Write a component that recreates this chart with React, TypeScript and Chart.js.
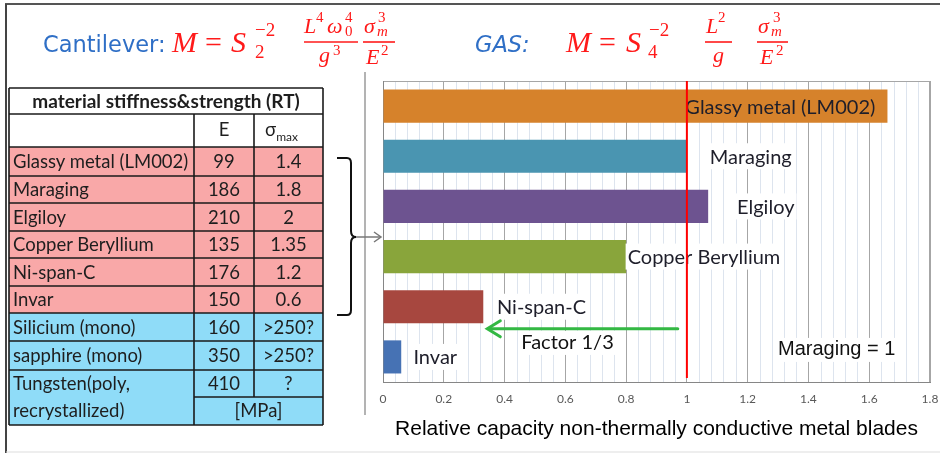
import React, { useEffect, useRef } from "react";
import { Chart, registerables } from "chart.js";
Chart.register(...registerables);

// ---- chart data ----
const materials = ["Glassy metal (LM002)", "Maraging", "Elgiloy", "Copper Beryllium", "Ni-span-C", "Invar"];
const relativeCapacity = [1.66, 1.0, 1.07, 0.8, 0.33, 0.06];
const barColors = ["#D6822B", "#4A95B1", "#6D5390", "#89A53B", "#A7473F", "#4672B4"];
const labelStart = [0.995, 1.075, 1.165, 0.805, 0.375, 0.1];
const xTickLabels = ["0", "0.2", "0.4", "0.6", "0.8", "1", "1.2", "1.4", "1.6", "1.8"];
const xTitle = "Relative capacity non-thermally conductive metal blades";
const referenceValue = 1.0;
const arrowFrom = 0.97;
const arrowTo = 0.34;

// ---- table data ----
const tableNames = ["Glassy metal (LM002)", "Maraging", "Elgiloy", "Copper Beryllium", "Ni-span-C", "Invar", "Silicium (mono)", "sapphire (mono)"];
const tableE = ["99", "186", "210", "135", "176", "150", "160", "350"];
const tableSigma = ["1.4", "1.8", "2", "1.35", "1.2", "0.6", ">250?", ">250?"];
const tableGroup = ["metal", "metal", "metal", "metal", "metal", "metal", "crystal", "crystal"];

const LABEL_FONT = "Lato, 'Open Sans', sans-serif";

function ChartPanel() {
  const ref = useRef<HTMLCanvasElement | null>(null);
  useEffect(() => {
    const canvas = ref.current!;
    const decor = {
      id: "decor",
      beforeDatasetsDraw(chart: any) {
        const { ctx, chartArea: a, scales } = chart;
        const xs = scales.x;
        ctx.save();
        ctx.strokeStyle = "#dde4ee";
        ctx.lineWidth = 1;
        for (let k = 1; k < 45; k++) {
          if (k % 5 === 0) continue;
          const px = Math.round(xs.getPixelForValue(k * 0.04)) + 0.5;
          ctx.beginPath();
          ctx.moveTo(px, a.top);
          ctx.lineTo(px, a.bottom);
          ctx.stroke();
        }
        ctx.strokeStyle = "#a6a6a6";
        ctx.beginPath();
        ctx.moveTo(a.left, a.top + 0.5);
        ctx.lineTo(a.right, a.top + 0.5);
        ctx.moveTo(a.right - 0.5, a.top);
        ctx.lineTo(a.right - 0.5, a.bottom);
        ctx.stroke();
        ctx.strokeStyle = "#868686";
        ctx.beginPath();
        ctx.moveTo(a.left + 0.5, a.top);
        ctx.lineTo(a.left + 0.5, a.bottom);
        ctx.stroke();
        ctx.restore();
      },
      afterDatasetsDraw(chart: any) {
        const { ctx, chartArea: a, scales } = chart;
        const xs = scales.x;
        const meta = chart.getDatasetMeta(0);
        ctx.save();
        ctx.font = `20px ${LABEL_FONT}`;
        ctx.textBaseline = "middle";
        ctx.textAlign = "left";
        materials.forEach((m, i) => {
          const bar = meta.data[i];
          const x = xs.getPixelForValue(labelStart[i]);
          const w = ctx.measureText(m).width;
          if (i !== 0) {
            ctx.fillStyle = "#ffffff";
            ctx.fillRect(x - 2, bar.y - 13, w + 4, 26);
          }
          ctx.fillStyle = "#1e1e2a";
          ctx.fillText(m, x, bar.y + 1);
        });
        // Factor 1/3 and Maraging = 1
        const niY = meta.data[4].y;
        const invY = meta.data[5].y;
        const fx = xs.getPixelForValue(0.455);
        const fy = invY - 14;
        const fw = ctx.measureText("Factor 1/3").width;
        ctx.fillStyle = "#ffffff";
        ctx.fillRect(fx - 2, fy - 12, fw + 4, 24);
        ctx.fillStyle = "#111";
        ctx.fillText("Factor 1/3", fx, fy);
        ctx.font = "20px 'Liberation Sans', Arial, sans-serif";
        const mx = xs.getPixelForValue(1.3);
        const my = invY - 7;
        const mw = ctx.measureText("Maraging = 1").width;
        ctx.fillStyle = "#ffffff";
        ctx.fillRect(mx - 2, my - 12, mw + 4, 24);
        ctx.fillStyle = "#111";
        ctx.fillText("Maraging = 1", mx, my);
        // red reference line
        const rx = xs.getPixelForValue(referenceValue);
        ctx.strokeStyle = "#ff0000";
        ctx.lineWidth = 2;
        ctx.beginPath();
        ctx.moveTo(rx, a.top);
        ctx.lineTo(rx, a.bottom - 4);
        ctx.stroke();
        // green arrow
        const ay = niY + 0.44 * (invY - niY);
        const x1 = xs.getPixelForValue(arrowFrom);
        const x2 = xs.getPixelForValue(arrowTo);
        ctx.strokeStyle = "#33B843";
        ctx.lineWidth = 3;
        ctx.lineCap = "round";
        ctx.beginPath();
        ctx.moveTo(x1, ay);
        ctx.lineTo(x2 + 2, ay);
        ctx.stroke();
        ctx.beginPath();
        ctx.moveTo(x2 + 14, ay - 8);
        ctx.lineTo(x2 + 1, ay);
        ctx.lineTo(x2 + 14, ay + 8);
        ctx.stroke();
        ctx.restore();
      },
    };
    const chart = new Chart(canvas, {
      type: "bar",
      data: {
        labels: materials,
        datasets: [
          {
            data: relativeCapacity,
            backgroundColor: barColors,
            borderWidth: 0,
            categoryPercentage: 1,
            barPercentage: 0.66,
          },
        ],
      },
      options: {
        indexAxis: "y",
        responsive: false,
        animation: false,
        layout: { padding: { left: 53, right: 10, top: 21, bottom: 0 } },
        plugins: { legend: { display: false }, tooltip: { enabled: false } },
        scales: {
          x: {
            min: 0,
            max: 1.8,
            ticks: {
              stepSize: 0.2,
              padding: 10,
              color: "#595959",
              font: { family: LABEL_FONT, size: 12 },
              callback: (_v: any, i: number) => xTickLabels[i],
            },
            grid: { color: "#a6a6a6", drawTicks: false, lineWidth: 1 },
            border: { display: true, color: "#868686" },
            title: {
              display: true,
              text: xTitle,
              color: "#000",
              font: { family: "'Liberation Sans', Arial, sans-serif", size: 21 },
              padding: { top: 0, bottom: 11 },
            },
            afterFit: (s: any) => {
              s.height = 71;
              s.paddingLeft = 0;
              s.paddingRight = 0;
            },
          },
          y: { display: false },
        },
      },
      plugins: [decor],
    } as any);
    return () => chart.destroy();
  }, []);
  return (
    <canvas
      ref={ref}
      width={610}
      height={393}
      style={{ position: "absolute", left: 330, top: 60, width: 610, height: 393 }}
    />
  );
}

const rowY = [88, 114, 147, 176, 203, 231, 258, 286, 313, 341, 370, 397, 425];
const colX = [9, 194, 254, 323];

function Table() {
  const cells: any[] = [];
  const texts: any[] = [];
  const pink = "#F9A8A8";
  const cyan = "#8FDCF8";
  const tf = { fontFamily: LABEL_FONT, fontSize: 18.5, fill: "#1e1e1e" } as any;
  tableNames.forEach((n, i) => {
    const y0 = rowY[i + 2];
    const y1 = rowY[i + 3];
    const fill = tableGroup[i] === "metal" ? pink : cyan;
    cells.push(<rect key={"r" + i} x={colX[0]} y={y0} width={colX[3] - colX[0]} height={y1 - y0} fill={fill} />);
    const cy = (y0 + y1) / 2 + 6.5;
    texts.push(<text key={"n" + i} x={13} y={cy} {...tf}>{n}</text>);
    texts.push(<text key={"e" + i} x={(colX[1] + colX[2]) / 2} y={cy} textAnchor="middle" {...tf}>{tableE[i]}</text>);
    texts.push(<text key={"s" + i} x={(colX[2] + colX[3]) / 2} y={cy} textAnchor="middle" {...tf}>{tableSigma[i]}</text>);
  });
  // tungsten
  cells.push(<rect key="tw" x={colX[0]} y={rowY[10]} width={colX[3] - colX[0]} height={rowY[12] - rowY[10]} fill={cyan} />);
  texts.push(<text key="t1" x={13} y={rowY[10] + 20} {...tf}>Tungsten(poly,</text>);
  texts.push(<text key="t2" x={13} y={rowY[11] + 20} {...tf}>recrystallized)</text>);
  texts.push(<text key="t3" x={(colX[1] + colX[2]) / 2} y={rowY[10] + 20} textAnchor="middle" {...tf}>410</text>);
  texts.push(<text key="t4" x={(colX[2] + colX[3]) / 2} y={rowY[10] + 20} textAnchor="middle" {...tf}>?</text>);
  texts.push(<text key="t5" x={(colX[1] + colX[3]) / 2} y={rowY[11] + 20} textAnchor="middle" {...tf}>[MPa]</text>);
  // headers
  texts.push(
    <text key="h1" x={(colX[0] + colX[3]) / 2} y={rowY[0] + 20} textAnchor="middle" {...tf} fontWeight="bold" fontSize={19}>
      material stiffness&amp;strength (RT)
    </text>
  );
  texts.push(<text key="h2" x={(colX[1] + colX[2]) / 2} y={rowY[1] + 22} textAnchor="middle" {...tf}>E</text>);
  texts.push(
    <text key="h3" x={(colX[2] + colX[3]) / 2 - 7} y={rowY[1] + 22} textAnchor="middle" {...tf}>
      σ<tspan fontSize={12} dy={5}>max</tspan>
    </text>
  );
  const lines: any[] = [];
  const ln = (k: string, x1: number, y1: number, x2: number, y2: number) =>
    lines.push(<line key={k} x1={x1} y1={y1} x2={x2} y2={y2} stroke="#1a1a1a" strokeWidth={1.6} />);
  rowY.forEach((y, i) => {
    if (i === 11) ln("hy" + i, colX[1], y, colX[3], y);
    else ln("hy" + i, colX[0], y, colX[3], y);
  });
  ln("v0", colX[0], rowY[0], colX[0], rowY[12]);
  ln("v3", colX[3], rowY[0], colX[3], rowY[12]);
  ln("v1", colX[1], rowY[1], colX[1], rowY[12]);
  ln("v2", colX[2], rowY[1], colX[2], rowY[11]);
  return (
    <g>
      {cells}
      {lines}
      {texts}
    </g>
  );
}

function Formulas() {
  const red = "#FF1A1A";
  const serif = "'Liberation Serif', 'DejaVu Serif', serif";
  const big = { fontFamily: serif, fontSize: 30, fill: red, fontStyle: "italic" } as any;
  const up = { fontFamily: serif, fontSize: 30, fill: red } as any;
  const mid = { fontFamily: serif, fontSize: 22, fill: red, fontStyle: "italic" } as any;
  const sm = { fontFamily: serif, fontSize: 15, fill: red } as any;
  const smi = { fontFamily: serif, fontSize: 15, fill: red, fontStyle: "italic" } as any;
  const blue = { fontFamily: "'DejaVu Sans', sans-serif", fontSize: 22.5, fill: "#2F6FC6" } as any;
  return (
    <g>
      <text x={43} y={52} {...blue}>Cantilever:</text>
      <text x={172} y={52} {...big}>M</text>
      <text x={205} y={52} {...up}>=</text>
      <text x={231} y={52} {...big}>S</text>
      <text x={255} y={36} {...sm} fontSize={19}>−2</text>
      <text x={255} y={58} {...sm} fontSize={19}>2</text>
      <text x={304} y={33} {...mid}>L</text>
      <text x={316} y={22} {...sm}>4</text>
      <text x={327} y={33} {...mid}>ω</text>
      <text x={345} y={22} {...sm}>4</text>
      <text x={345} y={36} {...sm}>0</text>
      <line x1={304} y1={42} x2={358} y2={42} stroke={red} strokeWidth={1.6} />
      <text x={319} y={62} {...mid}>g</text>
      <text x={333} y={55} {...sm}>3</text>
      <text x={364} y={33} {...mid}>σ</text>
      <text x={378} y={22} {...sm}>3</text>
      <text x={377} y={36} {...smi}>m</text>
      <line x1={363} y1={42} x2={395} y2={42} stroke={red} strokeWidth={1.6} />
      <text x={366} y={64} {...mid}>E</text>
      <text x={381} y={55} {...sm}>2</text>

      <text x={475} y={52} {...blue} fontStyle="italic">GAS:</text>
      <text x={566} y={52} {...big}>M</text>
      <text x={599} y={52} {...up}>=</text>
      <text x={626} y={52} {...big}>S</text>
      <text x={649} y={36} {...sm} fontSize={19}>−2</text>
      <text x={648} y={58} {...sm} fontSize={19}>4</text>
      <text x={706} y={33} {...mid}>L</text>
      <text x={718} y={22} {...sm}>2</text>
      <line x1={705} y1={42} x2={732} y2={42} stroke={red} strokeWidth={1.6} />
      <text x={713} y={62} {...mid}>g</text>
      <text x={758} y={33} {...mid}>σ</text>
      <text x={773} y={22} {...sm}>3</text>
      <text x={771} y={36} {...smi}>m</text>
      <line x1={757} y1={42} x2={788} y2={42} stroke={red} strokeWidth={1.6} />
      <text x={760} y={64} {...mid}>E</text>
      <text x={776} y={55} {...sm}>2</text>
    </g>
  );
}

export default function App() {
  return (
    <div style={{ position: "fixed", left: 0, top: 0, width: 940, height: 453, background: "#fff", overflow: "hidden" }}>
      <ChartPanel />
      <svg
        width={940}
        height={453}
        style={{ position: "absolute", left: 0, top: 0, pointerEvents: "none" }}
      >
        <line x1={5} y1={4} x2={940} y2={4} stroke="#555" strokeWidth={2} />
        <line x1={6} y1={4} x2={6} y2={453} stroke="#444" strokeWidth={2} />
        <line x1={6} y1={452} x2={940} y2={452} stroke="#ddd" strokeWidth={1} />
        <line x1={365} y1={72} x2={365} y2={415} stroke="#9a9a9a" strokeWidth={1.5} />
        <Formulas />
        <Table />
        <path
          d="M337,158 L347,158 Q351,158 351,163 L351,231 Q351,237 356,237 Q351,237 351,243 L351,310 Q351,315 347,315 L337,315"
          fill="none"
          stroke="#111"
          strokeWidth={2}
        />
        <line x1={356} y1={237} x2={381} y2={237} stroke="#777" strokeWidth={1.5} />
        <path d="M374,232 L381,237 L374,242" fill="none" stroke="#777" strokeWidth={1.5} />
      </svg>
    </div>
  );
}
